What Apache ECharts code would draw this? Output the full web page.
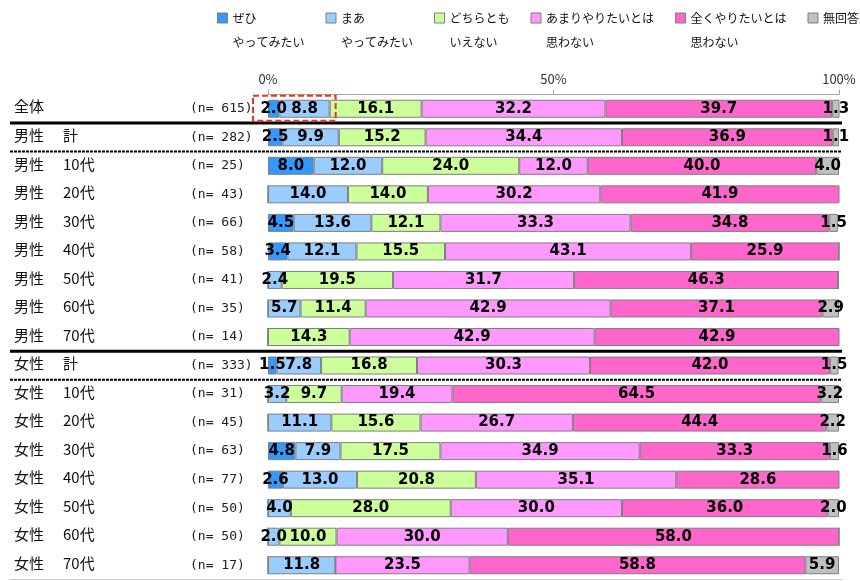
<!DOCTYPE html>
<html>
<head>
<meta charset="utf-8">
<script src="https://cdn.jsdelivr.net/npm/echarts@6/dist/echarts.min.js"></script>
<style>
html,body{margin:0;padding:0;background:#fff;}
#chart{width:860px;height:581px;}
</style>
</head>
<body>
<div id="chart"></div>
<script>
// ---- data ----
const categories = ['全体','男性　計','男性　10代','男性　20代','男性　30代','男性　40代','男性　50代','男性　60代','男性　70代',
  '女性　計','女性　10代','女性　20代','女性　30代','女性　40代','女性　50代','女性　60代','女性　70代'];
const groupLabels = ['全体','男性','男性','男性','男性','男性','男性','男性','男性','女性','女性','女性','女性','女性','女性','女性','女性'];
const subLabels = ['','計','10代','20代','30代','40代','50代','60代','70代','計','10代','20代','30代','40代','50代','60代','70代'];
const nValues = [615,282,25,43,66,58,41,35,14,333,31,45,63,77,50,50,17];

const seriesNames = ['ぜひやってみたい','まあやってみたい','どちらともいえない','あまりやりたいとは思わない','全くやりたいとは思わない','無回答'];
const legendLines = [['ぜひ','やってみたい'],['まあ','やってみたい'],['どちらとも','いえない'],['あまりやりたいとは','思わない'],['全くやりたいとは','思わない'],['無回答']];

const zehi    = [2.0,2.5,8.0,0,4.5,3.4,0,0,0,1.5,0,0,4.8,2.6,0,0,0];
const maa     = [8.8,9.9,12.0,14.0,13.6,12.1,2.4,5.7,0,7.8,3.2,11.1,7.9,13.0,4.0,2.0,11.8];
const dochira = [16.1,15.2,24.0,14.0,12.1,15.5,19.5,11.4,14.3,16.8,9.7,15.6,17.5,20.8,28.0,10.0,0];
const amari   = [32.2,34.4,12.0,30.2,33.3,43.1,31.7,42.9,42.9,30.3,19.4,26.7,34.9,35.1,30.0,30.0,23.5];
const mattaku = [39.7,36.9,40.0,41.9,34.8,25.9,46.3,37.1,42.9,42.0,64.5,44.4,33.3,28.6,36.0,58.0,58.8];
const mukaito = [1.3,1.1,4.0,0,1.5,0,0,2.9,0,1.5,3.2,2.2,1.6,0,2.0,0,5.9];

const seriesValues = [zehi, maa, dochira, amari, mattaku, mukaito];
const colors = ['#3399ff','#99ccff','#ccff99','#ff99ff','#ff66cc','#c0c0c0'];
const xTicks = { min: 0, max: 100, interval: 50 };

// ---- chart ----
const chart = echarts.init(document.getElementById('chart'), null, {renderer:'canvas'});

const series = seriesNames.map((name, si) => ({
  name: name,
  type: 'bar',
  stack: 'total',
  barWidth: 18,
  data: seriesValues[si],
  itemStyle: { color: colors[si], borderColor: '#7f7f7f', borderWidth: 1 },
  label: {
    show: true,
    position: 'inside',
    color: '#000',
    fontFamily: 'DejaVu Sans',
    fontWeight: 'bold',
    fontSize: 15,
    textBorderWidth: 0,
    formatter: p => (p.value ? Number(p.value).toFixed(1) : '')
  },
  emphasis: { disabled: true }
}));

chart.setOption({
  animation: false,
  backgroundColor: '#fff',
  color: colors,
  legend: {
    left: 217,
    top: -18,
    padding: 0,
    itemGap: 21,
    itemWidth: 10,
    itemHeight: 10,
    icon: 'rect',
    itemStyle: { borderColor: '#7f7f7f', borderWidth: 1 },
    textStyle: { fontFamily: 'Noto Sans CJK JP', fontSize: 12, lineHeight: 24, color: '#111' },
    selectedMode: false,
    data: seriesNames,
    formatter: name => {
      const lines = legendLines[seriesNames.indexOf(name)];
      return lines.length > 1 ? '\n' + lines[0] + '\n' + lines[1] : lines[0];
    }
  },
  grid: { left: 268, right: 21, top: 94.5, height: 485 },
  xAxis: {
    type: 'value',
    position: 'top',
    min: xTicks.min, max: xTicks.max, interval: xTicks.interval,
    axisLine: { show: true, lineStyle: { color: '#a6a6a6', width: 1 } },
    axisTick: { show: true, length: 5, lineStyle: { color: '#a6a6a6' } },
    splitLine: { show: false },
    axisLabel: { formatter: '{value}%', fontFamily: 'Noto Sans CJK JP', fontSize: 13, color: '#333', margin: 9 }
  },
  yAxis: {
    type: 'category',
    inverse: true,
    data: categories,
    axisLine: { show: false },
    axisTick: { show: false },
    splitLine: { show: false },
    axisLabel: {
      align: 'left',
      margin: 254,
      formatter: (v, i) => `{g|${groupLabels[i]}}{s|${subLabels[i] || ' '}}{n|(n= ${nValues[i]})}`,
      rich: {
        g: { width: 49, fontFamily: 'Noto Sans CJK JP', fontSize: 15, color: '#111', padding: [0,0,4,0] },
        s: { width: 127, fontFamily: 'Noto Sans CJK JP', fontSize: 15, color: '#111', padding: [0,0,4,0] },
        n: { fontFamily: 'DejaVu Sans Mono', fontSize: 13, color: '#222' }
      }
    }
  },
  series: series
});

// ---- separators and highlight, positioned from the axes ----
const yc = i => chart.convertToPixel({ yAxisIndex: 0 }, i);
const xc = v => chart.convertToPixel({ xAxisIndex: 0 }, v);
const band = yc(1) - yc(0);
const boundary = i => (yc(i) + yc(i + 1)) / 2;
const lx0 = 10, lx1 = xc(100) + 3;
const lines = [
  { y: boundary(0), w: 3, dash: null, c: '#000' },
  { y: boundary(1), w: 2, dash: [3, 1], c: '#000' },
  { y: boundary(8), w: 3, dash: null, c: '#000' },
  { y: boundary(9), w: 2, dash: [3, 1], c: '#000' },
  { y: yc(categories.length - 1) + band / 2, w: 1, dash: null, c: '#cccccc' }
];
const graphics = lines.map(l => ({
  type: 'line', z: 100,
  shape: { x1: lx0, y1: l.y, x2: lx1, y2: l.y },
  style: { stroke: l.c, lineWidth: l.w, lineDash: l.dash }
}));
const hx0 = xc(0) - 15, hx1 = xc(zehi[0] + maa[0]) + 6;
graphics.push({
  type: 'rect', z: 100,
  shape: { x: hx0, y: yc(0) - 13, width: hx1 - hx0, height: 25 },
  style: { fill: 'none', stroke: '#ee3322', lineWidth: 2, lineDash: [6, 3] }
});
chart.setOption({ graphic: graphics });
</script>
</body>
</html>
